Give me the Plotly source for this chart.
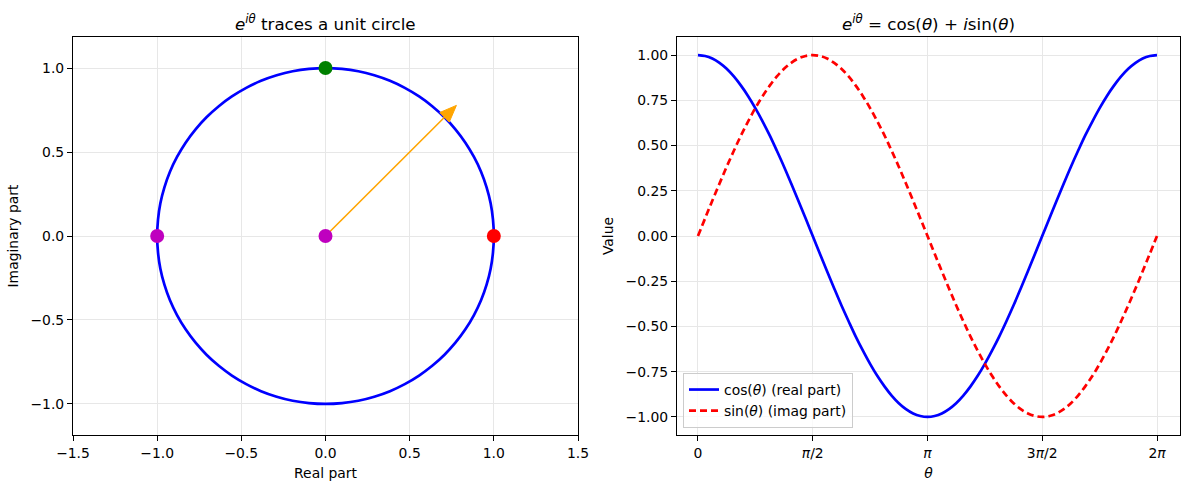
import math
import plotly.graph_objects as go
from plotly.subplots import make_subplots

# ---- data ----
theta = [0.000, 0.098, 0.196, 0.295, 0.393, 0.491, 0.589, 0.687, 0.785, 0.884, 0.982, 1.080, 1.178,
         1.276, 1.374, 1.473, 1.571, 1.669, 1.767, 1.865, 1.963, 2.062, 2.160, 2.258, 2.356, 2.454,
         2.553, 2.651, 2.749, 2.847, 2.945, 3.043, 3.142, 3.240, 3.338, 3.436, 3.534, 3.632, 3.731,
         3.829, 3.927, 4.025, 4.123, 4.222, 4.320, 4.418, 4.516, 4.614, 4.712, 4.811, 4.909, 5.007,
         5.105, 5.203, 5.301, 5.400, 5.498, 5.596, 5.694, 5.792, 5.890, 5.989, 6.087, 6.185, 6.283]
cos_vals = [1.000, 0.995, 0.981, 0.957, 0.924, 0.882, 0.831, 0.773, 0.707, 0.634, 0.556, 0.471, 0.383,
            0.290, 0.195, 0.098, 0.000,
            -0.098, -0.195, -0.290, -0.383, -0.471, -0.556, -0.634, -0.707, -0.773, -0.831, -0.882,
            -0.924, -0.957, -0.981, -0.995, -1.000,
            -0.995, -0.981, -0.957, -0.924, -0.882, -0.831, -0.773, -0.707, -0.634, -0.556, -0.471,
            -0.383, -0.290, -0.195, -0.098, 0.000,
            0.098, 0.195, 0.290, 0.383, 0.471, 0.556, 0.634, 0.707, 0.773, 0.831, 0.882, 0.924,
            0.957, 0.981, 0.995, 1.000]
sin_vals = [0.000, 0.098, 0.195, 0.290, 0.383, 0.471, 0.556, 0.634, 0.707, 0.773, 0.831, 0.882, 0.924,
            0.957, 0.981, 0.995, 1.000,
            0.995, 0.981, 0.957, 0.924, 0.882, 0.831, 0.773, 0.707, 0.634, 0.556, 0.471, 0.383,
            0.290, 0.195, 0.098, 0.000,
            -0.098, -0.195, -0.290, -0.383, -0.471, -0.556, -0.634, -0.707, -0.773, -0.831, -0.882,
            -0.924, -0.957, -0.981, -0.995, -1.000,
            -0.995, -0.981, -0.957, -0.924, -0.882, -0.831, -0.773, -0.707, -0.634, -0.556, -0.471,
            -0.383, -0.290, -0.195, -0.098, 0.000]
point_x = [1.0, 0.0, -1.0, 0.0]
point_y = [0.0, 1.0, 0.0, 0.0]
point_colors = ["#ff0000", "#008000", "#bf00bf", "#bf00bf"]
arrow_dx, arrow_dy = 0.707, 0.707
head_length, head_width = 0.1, 0.08
theta_tickvals = [0.0, 1.5708, 3.1416, 4.7124, 6.2832]
theta_ticktext = ["0", "<i>π</i>/2", "<i>π</i>", "3<i>π</i>/2", "2<i>π</i>"]

W, H = 1189, 490
FONT = "DejaVu Sans"
TICK = 13.9
GRID = "#e7e7e7"

fig = make_subplots(rows=1, cols=2)

# left: unit circle
fig.add_trace(go.Scatter(x=cos_vals, y=sin_vals, mode="lines",
                         line=dict(color="#0000ff", width=2.7, shape="spline"),
                         showlegend=False), row=1, col=1)
L = math.hypot(arrow_dx, arrow_dy)
ux, uy = arrow_dx / L, arrow_dy / L
tipx, tipy = arrow_dx + ux * head_length, arrow_dy + uy * head_length
fig.add_trace(go.Scatter(x=[0, arrow_dx], y=[0, arrow_dy], mode="lines",
                         line=dict(color="#ffa500", width=1.6), showlegend=False), row=1, col=1)
px_, py_ = -uy, ux
hw = head_width / 2
fig.add_trace(go.Scatter(x=[arrow_dx + px_ * hw, tipx, arrow_dx - px_ * hw, arrow_dx + px_ * hw],
                         y=[arrow_dy + py_ * hw, tipy, arrow_dy - py_ * hw, arrow_dy + py_ * hw],
                         mode="lines", fill="toself", fillcolor="#ffa500", line=dict(color="#ffa500", width=1),
                         showlegend=False), row=1, col=1)
fig.add_trace(go.Scatter(x=point_x, y=point_y, mode="markers",
                         marker=dict(color=point_colors, size=14, line=dict(width=0)), showlegend=False), row=1, col=1)

# right: cos & sin
fig.add_trace(go.Scatter(x=theta, y=cos_vals, mode="lines", name="cos(<i>θ</i>) (real part)",
                         line=dict(color="#0000ff", width=2.7, shape="spline")), row=1, col=2)
fig.add_trace(go.Scatter(x=theta, y=sin_vals, mode="lines", name="sin(<i>θ</i>) (imag part)",
                         line=dict(color="#ff0000", width=2.7, dash="7px,4px", shape="spline")), row=1, col=2)

axis_common = dict(showline=True, linecolor="black", linewidth=1.1, mirror=True, ticks="outside",
                   ticklen=5, tickwidth=1.1, tickcolor="black", showgrid=True, gridcolor=GRID, gridwidth=1,
                   zeroline=False, automargin=False,
                   tickfont=dict(family=FONT, size=TICK, color="black"),
                   title_font=dict(family=FONT, size=TICK, color="black"))

xd1 = [73 / W, 578 / W]
xd2 = [677 / W, 1180 / W]
yd = [(H - 435) / H, (H - 37) / H]

fig.update_xaxes(**axis_common)
fig.update_yaxes(**axis_common)
fig.update_layout(
    xaxis=dict(domain=xd1, range=[-1.5, 1.5], dtick=0.5, tick0=0, tickformat=".1f",
               title=dict(text="Real part", standoff=8)),
    yaxis=dict(domain=yd, range=[-1.185, 1.185], dtick=0.5, tick0=0, tickformat=".1f",
               title=dict(text="Imaginary part", standoff=8)),
    xaxis2=dict(domain=xd2, range=[-0.287, 6.598], tickvals=theta_tickvals, ticktext=theta_ticktext,
                title=dict(text="<i>θ</i>", standoff=8)),
    yaxis2=dict(domain=yd, range=[-1.1, 1.1], dtick=0.25, tick0=0, tickformat=".2f",
                title=dict(text="Value", standoff=8)),
)

fig.update_layout(
    width=W, height=H, margin=dict(l=0, r=0, t=0, b=0),
    plot_bgcolor="white", paper_bgcolor="white",
    font=dict(family=FONT, size=TICK, color="black"),
    legend=dict(x=683 / W, y=(H - 428) / H, xanchor="left", yanchor="bottom",
                bgcolor="rgba(255,255,255,0.8)", bordercolor="#cccccc", borderwidth=1,
                font=dict(family=FONT, size=TICK, color="black"), tracegroupgap=0,
                itemwidth=30),
    annotations=[
        dict(text="<i>e</i><sup><i>iθ</i></sup> traces a unit circle", x=(xd1[0] + xd1[1]) / 2, y=(H - 10) / H,
             xref="paper", yref="paper", xanchor="center", yanchor="top", showarrow=False,
             font=dict(family=FONT, size=16.7, color="black")),
        dict(text="<i>e</i><sup><i>iθ</i></sup> = cos(<i>θ</i>) + <i>i</i>sin(<i>θ</i>)", x=(xd2[0] + xd2[1]) / 2, y=(H - 10) / H,
             xref="paper", yref="paper", xanchor="center", yanchor="top", showarrow=False,
             font=dict(family=FONT, size=16.7, color="black")),
    ],
)

fig.write_html("out.html")
